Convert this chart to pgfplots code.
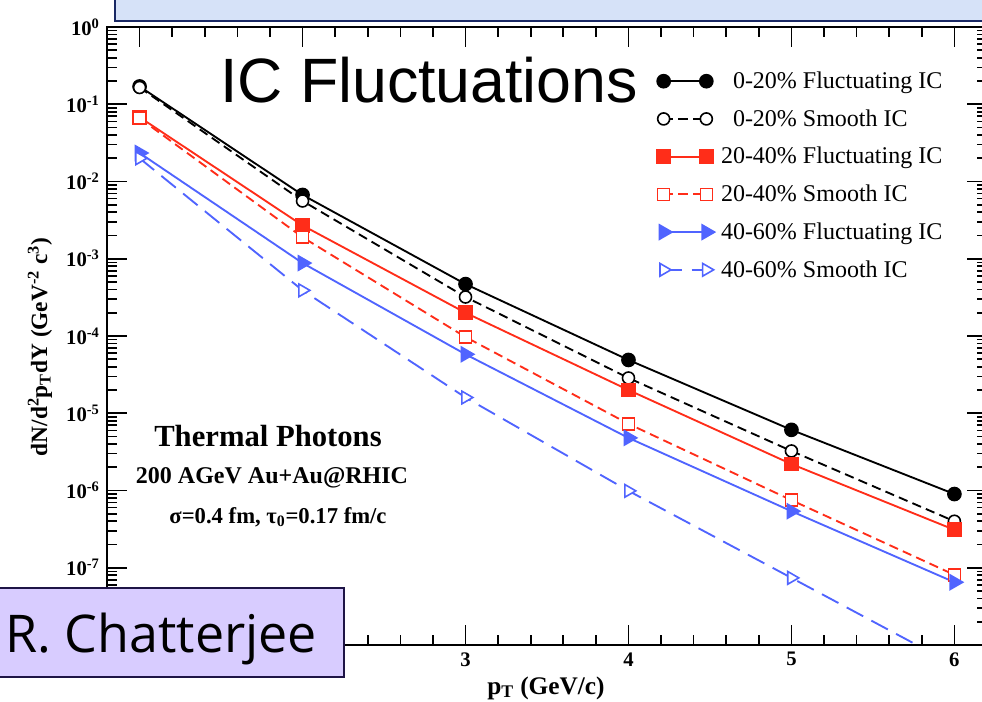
\documentclass[border=0pt]{standalone}
\usepackage{pgfplots}
\pgfplotsset{compat=1.18}
\usepackage{fontspec}
\setmainfont{Liberation Serif}
\newfontfamily\arialfont{Liberation Sans}
\newfontfamily\opensans{Open Sans}
\definecolor{cred}{RGB}{255,45,25}
\definecolor{cblue}{RGB}{80,100,255}
\definecolor{topbox}{RGB}{214,226,248}
\definecolor{topborder}{RGB}{25,40,100}
\definecolor{namebox}{RGB}{216,204,255}
\definecolor{nameborder}{RGB}{30,20,70}
\begin{document}
\begin{tikzpicture}
\useasboundingbox (0,0) rectangle (736.5pt,-525.75pt);
\begin{scope}[x=0.75pt,y=-0.75pt]
\draw[topborder, line width=2pt, fill=topbox] (115,-20) rectangle (1000,21);
\end{scope}
\begin{axis}[
  at={(80.25pt,-483.75pt)}, anchor=south west,
  scale only axis, width=660pt, height=463.5pt,
  xmin=0.8, xmax=6.2, ymode=log, ymin=1e-8, ymax=1,
  axis line style={line width=1.6pt},
  every tick/.style={black, line width=1.2pt},
  major tick length=15pt, minor tick length=7.5pt,
  tick align=inside,
  xtick={1,2,3,4,5,6}, minor x tick num=4,
  xticklabels={,,3,4,5,6},
  ytick={1e-8,1e-7,1e-6,1e-5,1e-4,1e-3,1e-2,1e-1,1},
  yticklabels={,10\textsuperscript{-7},10\textsuperscript{-6},10\textsuperscript{-5},10\textsuperscript{-4},10\textsuperscript{-3},10\textsuperscript{-2},10\textsuperscript{-1},10\textsuperscript{0}},
  ticklabel style={font=\bfseries\fontsize{15.5}{16}\selectfont},
  yticklabel style={xshift=-2pt},
  xticklabel style={yshift=-2pt},
  legend image code/.code={\draw[#1] plot coordinates {(0pt,0pt) (32pt,0pt)};},
  legend cell align=left,
  legend style={draw=none, fill=none, at={(rel axis cs:0.625,0.93)}, anchor=north west,
    font=\fontsize{18}{19}\selectfont, row sep=12.3pt, column sep=4pt, inner sep=0pt,
    nodes={inner sep=1pt}},
]
\addplot[black, line width=1.4pt, mark=*, mark size=4.8pt] coordinates {(1,0.17) (2,6.7e-3) (3,4.7e-4) (4,4.9e-5) (5,6.1e-6) (6,9.0e-7)};
\addlegendentry{\phantom{2}0-20\% Fluctuating IC}
\addplot[black, line width=1.4pt, dash pattern=on 7pt off 4pt, mark=*, mark size=4.5pt, mark options={solid, fill=white, line width=1.2pt}] coordinates {(1,0.165) (2,5.6e-3) (3,3.2e-4) (4,2.86e-5) (5,3.25e-6) (6,4.0e-7)};
\addlegendentry{\phantom{2}0-20\% Smooth IC}
\addplot[cred, line width=1.4pt, mark=square*, mark size=4.8pt] coordinates {(1,0.068) (2,2.7e-3) (3,2.0e-4) (4,2.0e-5) (5,2.2e-6) (6,3.1e-7)};
\addlegendentry{20-40\% Fluctuating IC}
\addplot[cred, line width=1.4pt, dash pattern=on 7pt off 4pt, mark=square*, mark size=4.5pt, mark options={solid, fill=white, line width=1.2pt}] coordinates {(1,0.066) (2,1.9e-3) (3,9.7e-5) (4,7.3e-6) (5,7.5e-7) (6,8.1e-8)};
\addlegendentry{20-40\% Smooth IC}
\addplot[cblue, line width=1.4pt, mark=triangle*, mark size=6pt, mark options={rotate=-90}] coordinates {(1,2.34e-2) (2,8.8e-4) (3,5.8e-5) (4,4.8e-6) (5,5.4e-7) (6,6.5e-8)};
\addlegendentry{40-60\% Fluctuating IC}
\addplot[cblue, line width=1.4pt, dash pattern=on 14pt off 7pt, mark=triangle*, mark size=5.5pt, mark options={solid, rotate=-90, fill=white, line width=1.2pt}] coordinates {(1,2.0e-2) (2,3.9e-4) (3,1.6e-5) (4,9.9e-7) (5,7.4e-8) (6,5.5e-9)};
\addlegendentry{40-60\% Smooth IC}
\end{axis}
\begin{scope}[x=0.75pt,y=-0.75pt]
\node[font=\arialfont\fontsize{47}{47}\selectfont, inner sep=0pt] at (429,80) {IC Fluctuations};
\node[font=\bfseries\fontsize{23}{24}\selectfont, inner sep=0pt] at (268,436) {Thermal Photons};
\node[font=\bfseries\fontsize{18}{20}\selectfont, inner sep=0pt] at (272,478) {200 AGeV Au+Au@RHIC};
\node[font=\bfseries\fontsize{17}{20}\selectfont, inner sep=0pt] at (278,517) {σ=0.4 fm, τ\textsubscript{0}=0.17 fm/c};
\node[font=\bfseries\fontsize{17.5}{19}\selectfont, rotate=90, inner sep=0pt] at (40,347) {dN/d\textsuperscript{2}p\textsubscript{T}dY (GeV\textsuperscript{-2} c\textsuperscript{3})};
\node[font=\bfseries\fontsize{19}{20}\selectfont, inner sep=0pt] at (546,688) {p\textsubscript{T} (GeV/c)};
\draw[nameborder, line width=1.5pt, fill=namebox] (-10,588) rectangle (344,677);
\node[font=\opensans\fontsize{39}{40}\selectfont, anchor=base west, inner sep=0pt] at (5,652) {R. Chatterjee};
\end{scope}
\end{tikzpicture}
\end{document}
